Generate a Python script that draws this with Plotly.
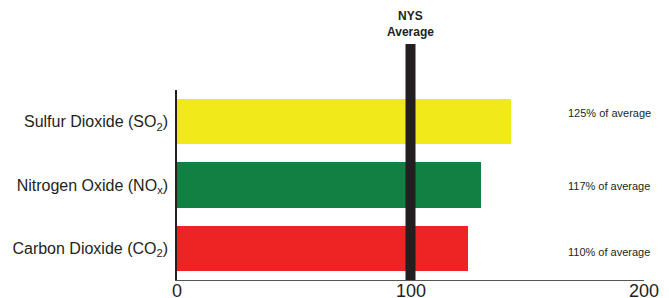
import plotly.graph_objects as go

categories = ["Carbon Dioxide (CO<sub>2</sub>)", "Nitrogen Oxide (NO<sub>x</sub>)", "Sulfur Dioxide (SO<sub>2</sub>)"]
values = [124.8, 130.0, 143.2]
colors = ["#EE2324", "#127F43", "#F2E91A"]
pct_labels = ["110% of average", "117% of average", "125% of average"]
pct_label_y = [-0.06, 0.98, 2.14]
nys_average = 100
x_ticks = [0, 100, 200]

fig = go.Figure()
fig.add_trace(go.Bar(
    y=categories, x=values, orientation="h",
    marker=dict(color=colors, line=dict(width=0)),
    width=0.72, hoverinfo="skip",
))

fig.add_shape(type="line", xref="x", yref="paper",
              x0=nys_average, x1=nys_average, y0=0, y1=1.242,
              line=dict(color="#231F20", width=10), layer="above")

fig.add_annotation(x=nys_average, xref="x", y=1.258, yref="paper",
                   text="<b>NYS<br>Average</b>", showarrow=False,
                   font=dict(family="Liberation Sans Narrow, Liberation Sans, Arial", size=12, color="#231F20"),
                   yanchor="bottom", xanchor="center", align="center")

for lab, yy in zip(pct_labels, pct_label_y):
    fig.add_annotation(x=166.8, xref="x", y=yy, yref="y", text=lab,
                       showarrow=False, xanchor="left", yanchor="middle",
                       font=dict(family="Liberation Sans Narrow, Liberation Sans, Arial", size=11, color="#231F20"))

for tv in x_ticks:
    fig.add_annotation(x=tv, xref="x", y=0.0, yref="paper", text=str(tv),
                       showarrow=False, xanchor="center", yanchor="top", borderpad=0,
                       font=dict(size=18, family="Liberation Sans, Arial", color="#231F20"))

fig.update_layout(
    width=669, height=298,
    margin=dict(l=177, r=25, t=90, b=18, autoexpand=False),
    paper_bgcolor="white", plot_bgcolor="white",
    showlegend=False,
    bargap=0,
    font=dict(family="Liberation Sans, Arial", color="#231F20"),
)
fig.update_xaxes(range=[0, 200], tickvals=x_ticks, showticklabels=False,
                 showgrid=False, zeroline=False, showline=True, linecolor="#555555", linewidth=1,
                 ticks="inside", ticklen=4, tickcolor="#555555", automargin=False)
fig.update_yaxes(categoryorder="array", categoryarray=categories, range=[-0.5, 2.5],
                 showgrid=False, zeroline=False, showline=True, linecolor="#231F20", linewidth=1.5,
                 ticks="", ticklabelstandoff=4, automargin=False,
                 tickfont=dict(size=16, family="Liberation Sans, Arial", color="#231F20"))

fig.write_html("out.html", config={"displayModeBar": False},
               post_script="document.body.style.margin='0px';")
